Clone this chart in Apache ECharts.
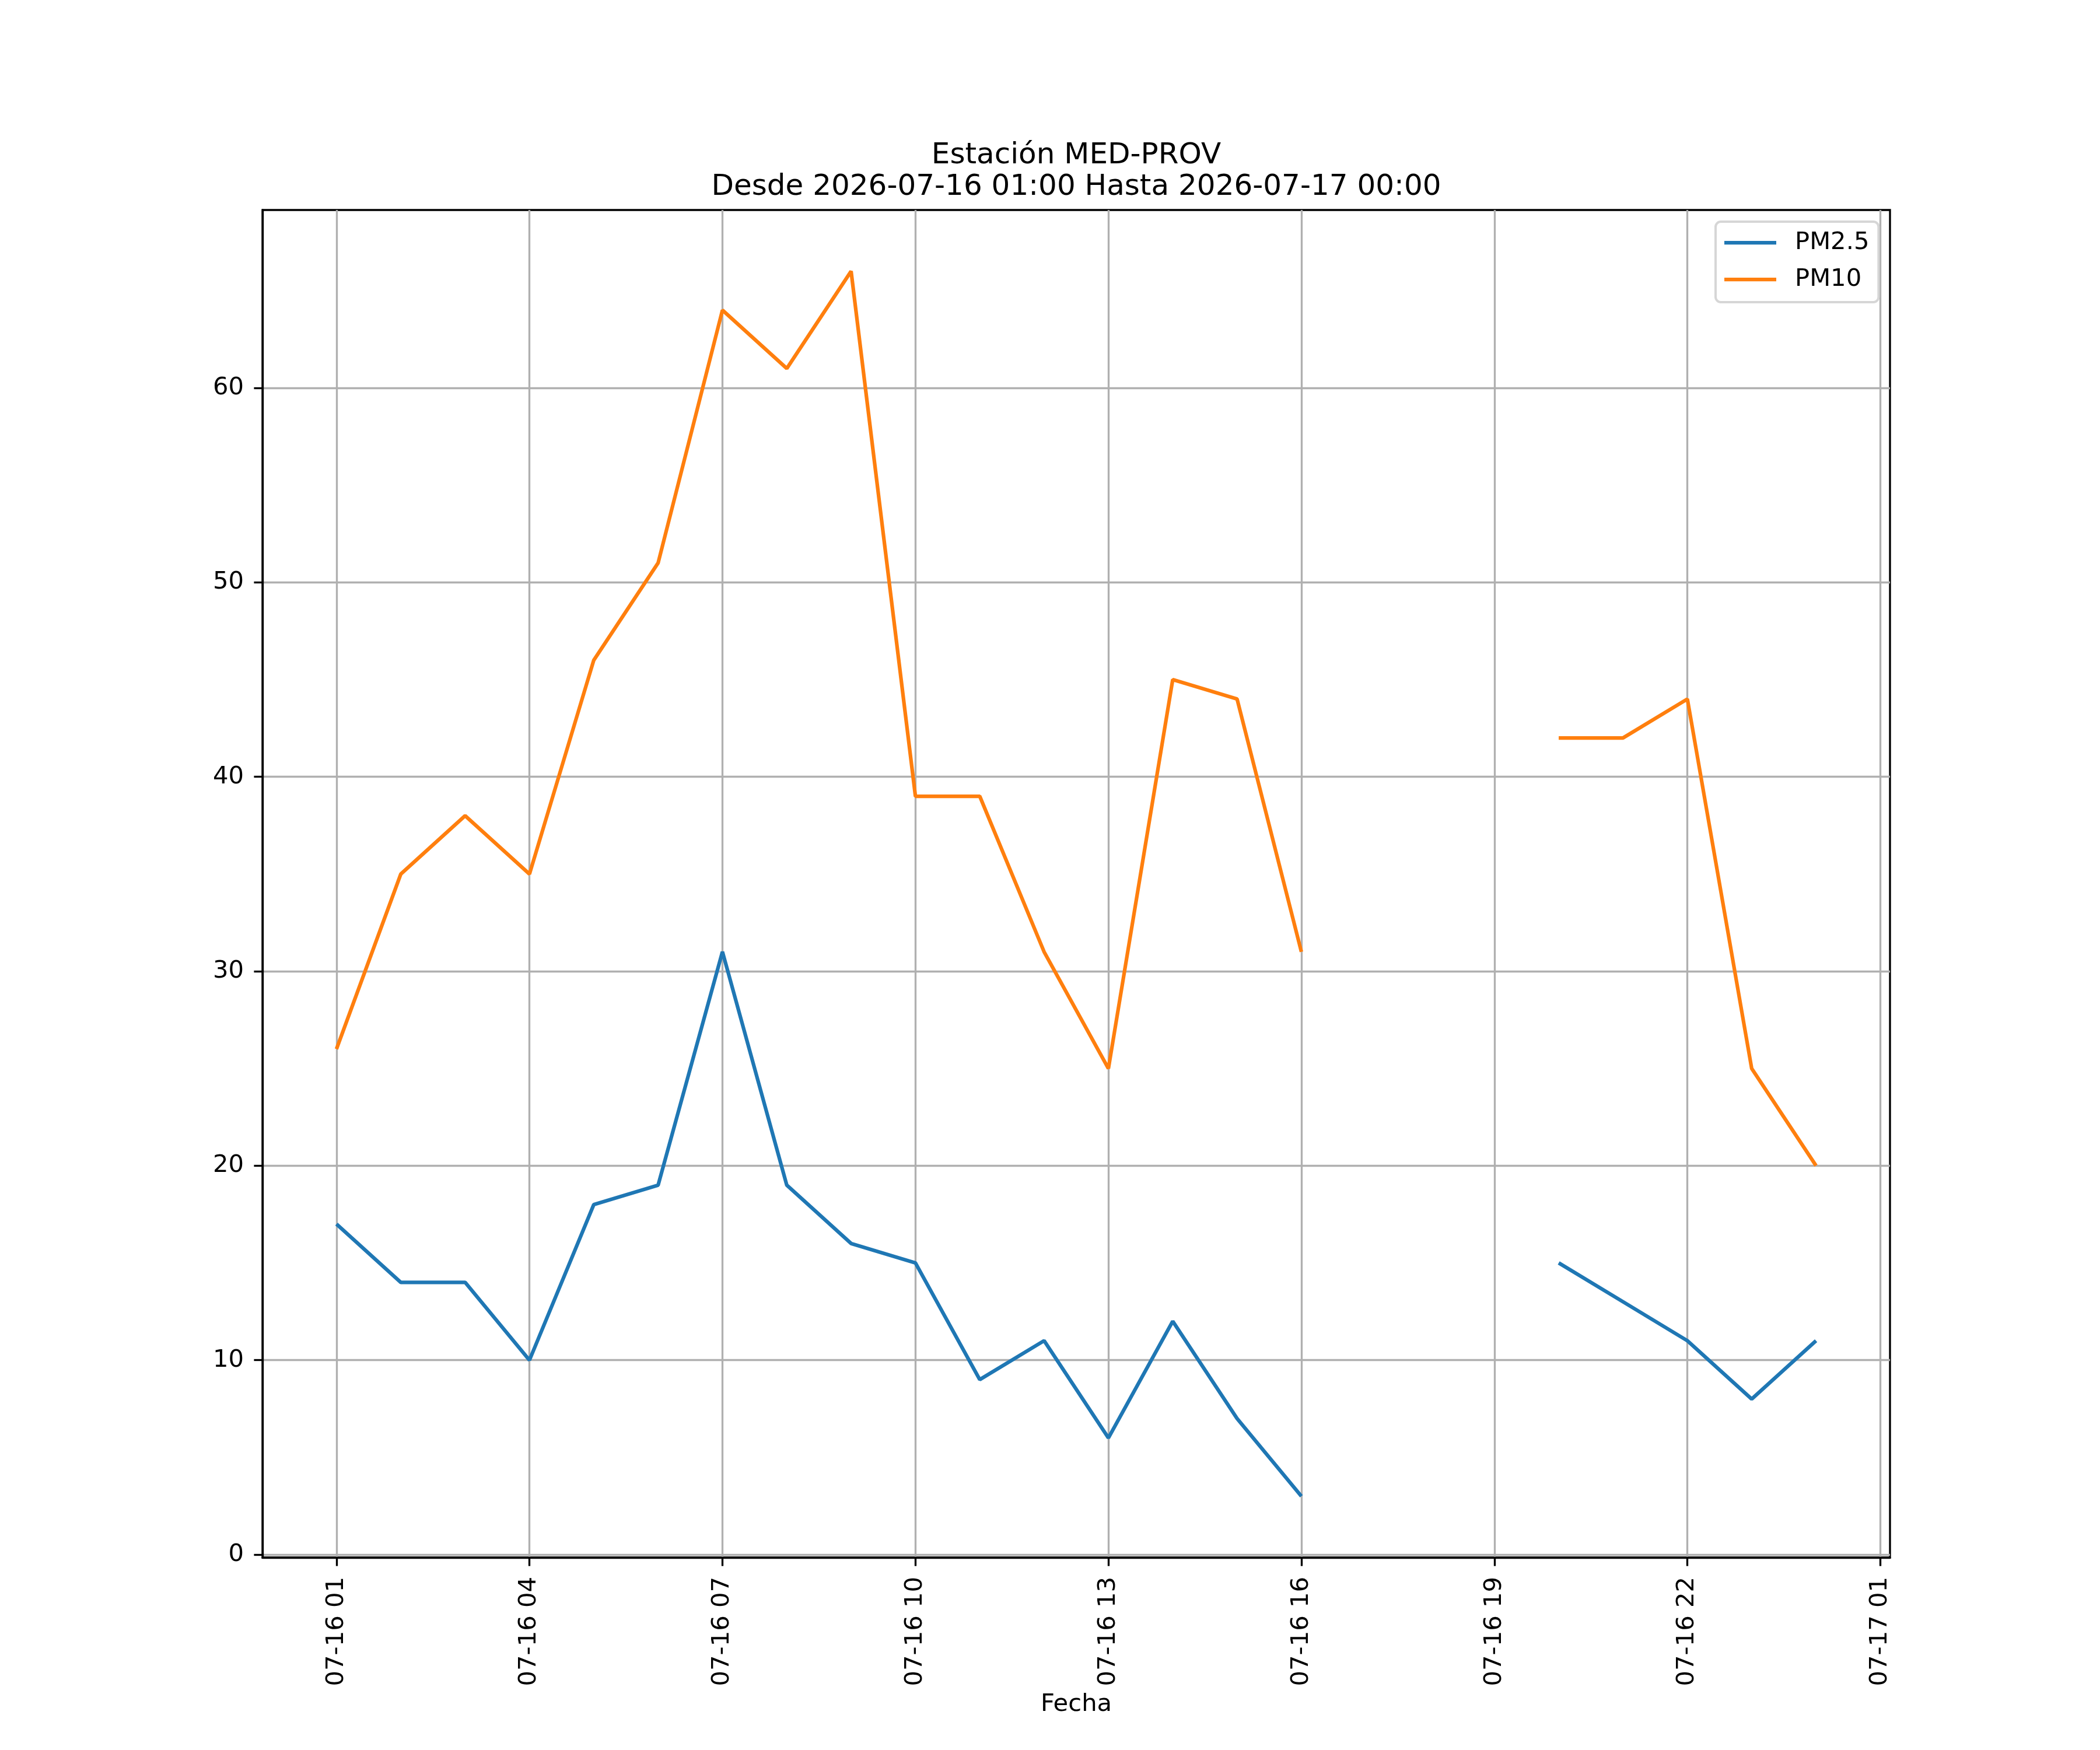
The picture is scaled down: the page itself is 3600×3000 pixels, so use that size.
<!DOCTYPE html>
<html>
<head>
<meta charset="utf-8">
<script src="https://cdn.jsdelivr.net/npm/echarts@6/dist/echarts.min.js"></script>
<style>
  html, body { margin: 0; padding: 0; background: #fff; }
  #chart { width: 3600px; height: 3000px; }
</style>
</head>
<body>
<div id="chart"></div>
<script>
// horas desde 2026-07-16 00:00 (24 = 2026-07-17 00:00)
var hours = [1, 2, 3, 4, 5, 6, 7, 8, 9, 10, 11, 12, 13, 14, 15, 16, 17, 18, 19, 20, 21, 22, 23, 24];
var pm25 = [17, 14, 14, 10, 18, 19, 31, 19, 16, 15, 9, 11, 6, 12, 7, 3, null, null, null, 15, 13, 11, 8, 11];
var pm10 = [26, 35, 38, 35, 46, 51, 64, 61, 66, 39, 39, 31, 25, 45, 44, 31, null, null, null, 42, 42, 44, 25, 20];
var xTicks = [1, 4, 7, 10, 13, 16, 19, 22, 25];
var yTicks = [0, 10, 20, 30, 40, 50, 60];
var titleText = 'Estación MED-PROV\nDesde 2026-07-16 01:00 Hasta 2026-07-17 00:00';

var FONT = 'DejaVu Sans';
var LW = 3.33;

function pad(n) {
  return (n < 10 ? '0' : '') + n;
}
function hourLabel(h) {
  return h < 24 ? '07-16 ' + pad(h) : '07-17 ' + pad(h - 24);
}
function pairs(vals) {
  return hours.map(function (h, i) {
    return [h, vals[i] == null ? '-' : vals[i]];
  });
}

var chart = echarts.init(document.getElementById('chart'), null, { renderer: 'canvas' });

var option = {
  animation: false,
  backgroundColor: '#fff',
  textStyle: { fontFamily: FONT },
  // titulo centrado sobre el area del grafico (x = 1845)
  graphic: [{
    type: 'text',
    x: 1845,
    y: 240,
    style: {
      text: titleText,
      fontFamily: FONT,
      fontSize: 50,
      lineHeight: 54,
      fill: '#000',
      align: 'center',
      verticalAlign: 'top'
    }
  }],
  legend: {
    orient: 'vertical',
    left: 2941,
    top: 380,
    padding: [15, 16, 18, 15],
    itemWidth: 89,
    itemHeight: 6.25,
    itemGap: 21,
    icon: 'rect',
    backgroundColor: '#fff',
    borderColor: '#d6d6d6',
    borderWidth: 4,
    borderRadius: 9,
    textStyle: { fontFamily: FONT, fontSize: 41.7, color: '#000', padding: [0, 0, 0, 27] },
    data: ['PM2.5', 'PM10']
  },
  grid: {
    left: 450,
    right: 360,
    top: 360,
    bottom: 330,
    show: true,
    borderColor: '#000',
    borderWidth: LW,
    backgroundColor: 'transparent'
  },
  xAxis: {
    type: 'value',
    min: -0.15,
    max: 25.15,
    name: 'Fecha',
    nameLocation: 'middle',
    nameGap: 231,
    nameTextStyle: { fontFamily: FONT, fontSize: 41.7, color: '#000', verticalAlign: 'top' },
    axisLine: { show: true, onZero: false, lineStyle: { color: '#000', width: LW } },
    axisTick: { show: true, length: 14.6, lineStyle: { color: '#000', width: LW }, customValues: xTicks },
    axisLabel: {
      rotate: 90,
      margin: 33,
      fontFamily: FONT,
      fontSize: 41.7,
      color: '#000',
      customValues: xTicks,
      formatter: function (v) { return hourLabel(v); }
    },
    splitLine: { show: true, lineStyle: { color: '#b0b0b0', width: LW } }
  },
  yAxis: {
    type: 'value',
    min: -0.15,
    max: 69.15,
    axisLine: { show: true, onZero: false, lineStyle: { color: '#000', width: LW } },
    axisTick: { show: true, length: 14.6, lineStyle: { color: '#000', width: LW }, customValues: yTicks },
    axisLabel: {
      margin: 32,
      fontFamily: FONT,
      fontSize: 41.7,
      color: '#000',
      customValues: yTicks
    },
    splitLine: { show: true, lineStyle: { color: '#b0b0b0', width: LW } }
  },
  series: [
    {
      name: 'PM2.5',
      type: 'line',
      data: pairs(pm25),
      symbol: 'none',
      connectNulls: false,
      color: '#1f77b4',
      lineStyle: { color: '#1f77b4', width: 6.25 }
    },
    {
      name: 'PM10',
      type: 'line',
      data: pairs(pm10),
      symbol: 'none',
      connectNulls: false,
      color: '#ff7f0e',
      lineStyle: { color: '#ff7f0e', width: 6.25 }
    }
  ]
};

chart.setOption(option);
</script>
</body>
</html>
